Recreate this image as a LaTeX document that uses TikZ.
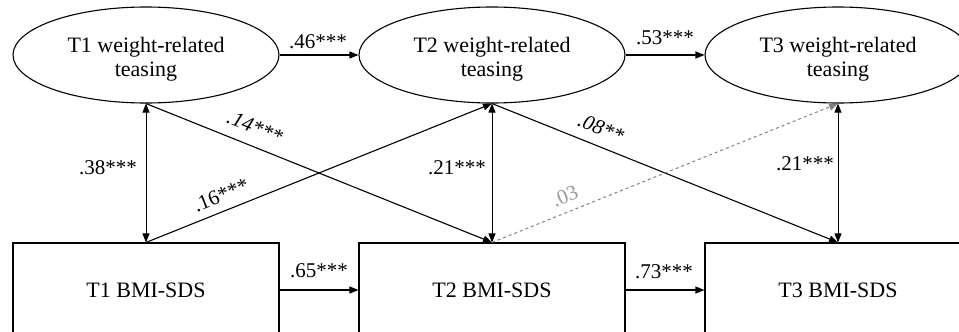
\documentclass[tikz,border=0pt]{standalone}
\usepackage{fontspec}
\setmainfont{Liberation Serif}
\usetikzlibrary{shapes.geometric,arrows.meta}
\newcommand{\lattext}[1]{\raisebox{-5pt}[\height][\depth]{\begin{tabular}{@{}c@{}}#1\end{tabular}}}
\begin{document}
\begin{tikzpicture}[x=1pt,y=-1pt,
  every node/.style={font=\fontsize{21}{24}\selectfont},
  latent/.style={draw,ellipse,line width=1.1pt,minimum width=266pt,minimum height=96pt,inner sep=0pt,font=\fontsize{22}{24}\selectfont},
  observed/.style={draw,rectangle,line width=1.1pt,minimum width=266pt,minimum height=94pt,inner sep=0pt,font=\fontsize{22}{24}\selectfont},
  path/.style={line width=1.1pt,-{Triangle[length=9pt,width=7pt]}},
  cov/.style={line width=0.9pt,{Triangle[length=9pt,width=7pt]}-{Triangle[length=9pt,width=7pt]}},
  nspath/.style={line width=1pt,draw=black!50,dashed,-{Triangle[length=9pt,width=7pt]}},
  coef/.style={inner sep=1pt},
]
\clip (0,0) rectangle (959,332);
\node[latent] (e1) at (146,55) {\lattext{T1 weight-related\\teasing}};
\node[latent] (e2) at (492,55) {\lattext{T2 weight-related\\teasing}};
\node[latent] (e3) at (838,55) {\lattext{T3 weight-related\\teasing}};
\node[observed] (r1) at (146,290) {T1 BMI-SDS};
\node[observed] (r2) at (492,290) {T2 BMI-SDS};
\node[observed] (r3) at (838,290) {T3 BMI-SDS};

\draw[path] (e1) -- (e2);
\draw[path] (e2) -- (e3);
\draw[path] (r1) -- (r2);
\draw[path] (r2) -- (r3);

\draw[cov] (e1.south) -- (r1.north);
\draw[cov] (e2.south) -- (r2.north);
\draw[cov] (e3.south) -- (r3.north);

\draw[path] (e1.south) -- (r2.north);
\draw[path] (r1.north) -- (e2.south);
\draw[path] (e2.south) -- (r3.north);
\draw[nspath] (r2.north) -- (e3.south);

\node[coef] (l46) at (318,42) {.46***};
\node[coef] (l53) at (665,38) {.53***};
\node[coef] (l65) at (319,271) {.65***};
\node[coef] (l73) at (664,272) {.73***};
\node[coef] (l38) at (108,168) {.38***};
\node[coef] (l21a) at (457,168) {.21***};
\node[coef] (l21b) at (805,164) {.21***};
\node[coef,rotate=-22] (l14) at (255,127) {\itshape .14***};
\node[coef,rotate=22] (l16) at (221,195) {.16***};
\node[coef,rotate=-22] (l08) at (601,128) {\itshape .08**};
\node[coef,rotate=22,text=black!40] (l03) at (565,196) {.03};
\end{tikzpicture}
\end{document}
